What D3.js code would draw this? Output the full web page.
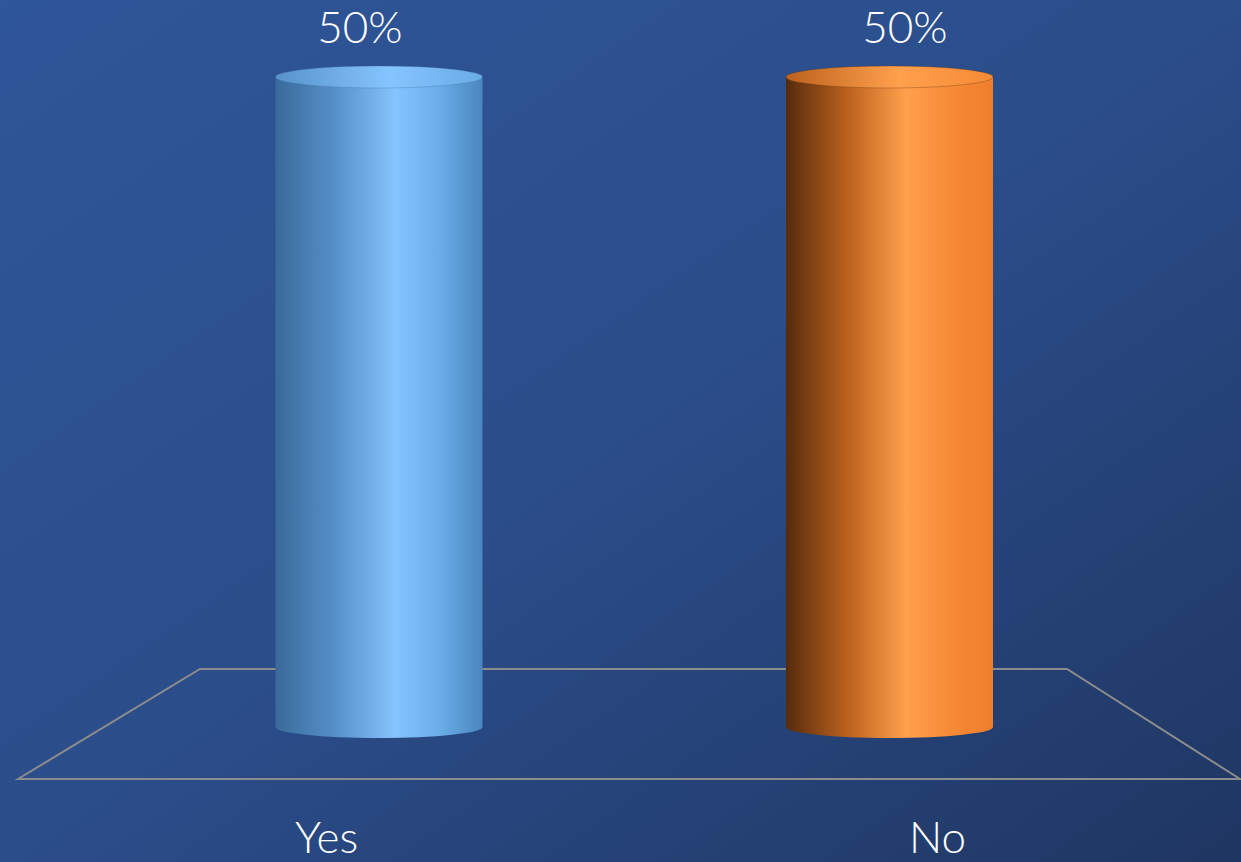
<!DOCTYPE html>
<html><head><meta charset="utf-8">
<script src="https://cdn.jsdelivr.net/npm/d3@7"></script>
<style>html,body{margin:0;padding:0;overflow:hidden;background:#2a4c88}</style>
</head><body>
<script>
const categories = ["Yes", "No"];
const values = [0.5, 0.5];
const valueLabels = ["50%", "50%"];
const palettes = [
  ["#3a6a9a", "#5792cb", "#86c4ff", "#69ace6", "#4a86bf"],
  ["#552b0c", "#bd621e", "#ffa04c", "#f68a36", "#ef7e2c"]
];

const W = 1241, H = 862;
const svg = d3.select("body").append("svg").attr("width", W).attr("height", H);
const defs = svg.append("defs");

const bg = defs.append("linearGradient").attr("id", "bg")
  .attr("x1", "0").attr("y1", "0").attr("x2", "1").attr("y2", "1");
bg.append("stop").attr("offset", "0").attr("stop-color", "#2f5699");
bg.append("stop").attr("offset", "0.5").attr("stop-color", "#2b4d8a");
bg.append("stop").attr("offset", "1").attr("stop-color", "#1f3662");
svg.append("rect").attr("width", W).attr("height", H).attr("fill", "url(#bg)");

// floor geometry
const backY = 669, frontY = 779;
const backX = [200, 1067], frontX = [18, 1240];
svg.append("path")
  .attr("d", `M${frontX[0]},${frontY}L${backX[0]},${backY}L${backX[1]},${backY}L${frontX[1]},${frontY}Z`)
  .attr("fill", "none").attr("stroke", "#8c8c8c").attr("stroke-width", 2);

const xFront = d3.scaleBand().domain(categories).range(frontX);
const xMid = d3.scalePoint().domain(categories).range([379, 889.5]);
const xTop = d3.scalePoint().domain(categories).range([360, 905]);
const barW = 207;
const baseY = 727;
const y = d3.scaleLinear().domain([0, 0.5]).range([baseY, 77]);
const ry = 11;

categories.forEach((c, i) => {
  const p = palettes[i];
  const g = defs.append("linearGradient").attr("id", "side" + i)
    .attr("x1", "0").attr("x2", "1").attr("y1", "0").attr("y2", "0");
  [[0, p[0]], [0.3, p[1]], [0.58, p[2]], [0.8, p[3]], [1, p[4]]].forEach(([o, col]) =>
    g.append("stop").attr("offset", o).attr("stop-color", col));
  const t = defs.append("linearGradient").attr("id", "top" + i)
    .attr("x1", "0").attr("x2", "1").attr("y1", "0").attr("y2", "0");
  [[0, p[1]], [0.55, p[2]], [1, p[3]]].forEach(([o, col]) =>
    t.append("stop").attr("offset", o).attr("stop-color", col));
});

const bars = svg.selectAll("g.bar").data(categories).enter().append("g").attr("class", "bar");
bars.each(function (c, i) {
  const gsel = d3.select(this);
  const rx = barW / 2, cx = xMid(c), x0 = cx - rx;
  const yt = y(values[i]);
  gsel.append("path")
    .attr("d", `M${x0},${yt}L${x0},${baseY}A${rx},${ry} 0 0 0 ${x0 + barW},${baseY}L${x0 + barW},${yt}Z`)
    .attr("fill", `url(#side${i})`);
  gsel.append("ellipse").attr("cx", cx).attr("cy", yt).attr("rx", rx).attr("ry", ry)
    .attr("fill", `url(#top${i})`).attr("stroke", palettes[i][0]).attr("stroke-opacity", 0.3).attr("stroke-width", 1);
  gsel.append("text").attr("x", xTop(c)).attr("y", 43).attr("text-anchor", "middle")
    .attr("font-family", "Lato, 'Open Sans', sans-serif").attr("font-weight", 300).attr("font-size", 44)
    .attr("fill", "#ffffff").text(valueLabels[i]);
});

svg.selectAll("text.cat").data(categories).enter().append("text").attr("class", "cat")
  .attr("x", d => xFront(d) + xFront.bandwidth() / 2 + 3).attr("y", 853)
  .attr("text-anchor", "middle").attr("font-family", "Lato, 'Open Sans', sans-serif")
  .attr("font-weight", 300).attr("font-size", 44).attr("fill", "#ffffff").text(d => d);
</script>
</body></html>
